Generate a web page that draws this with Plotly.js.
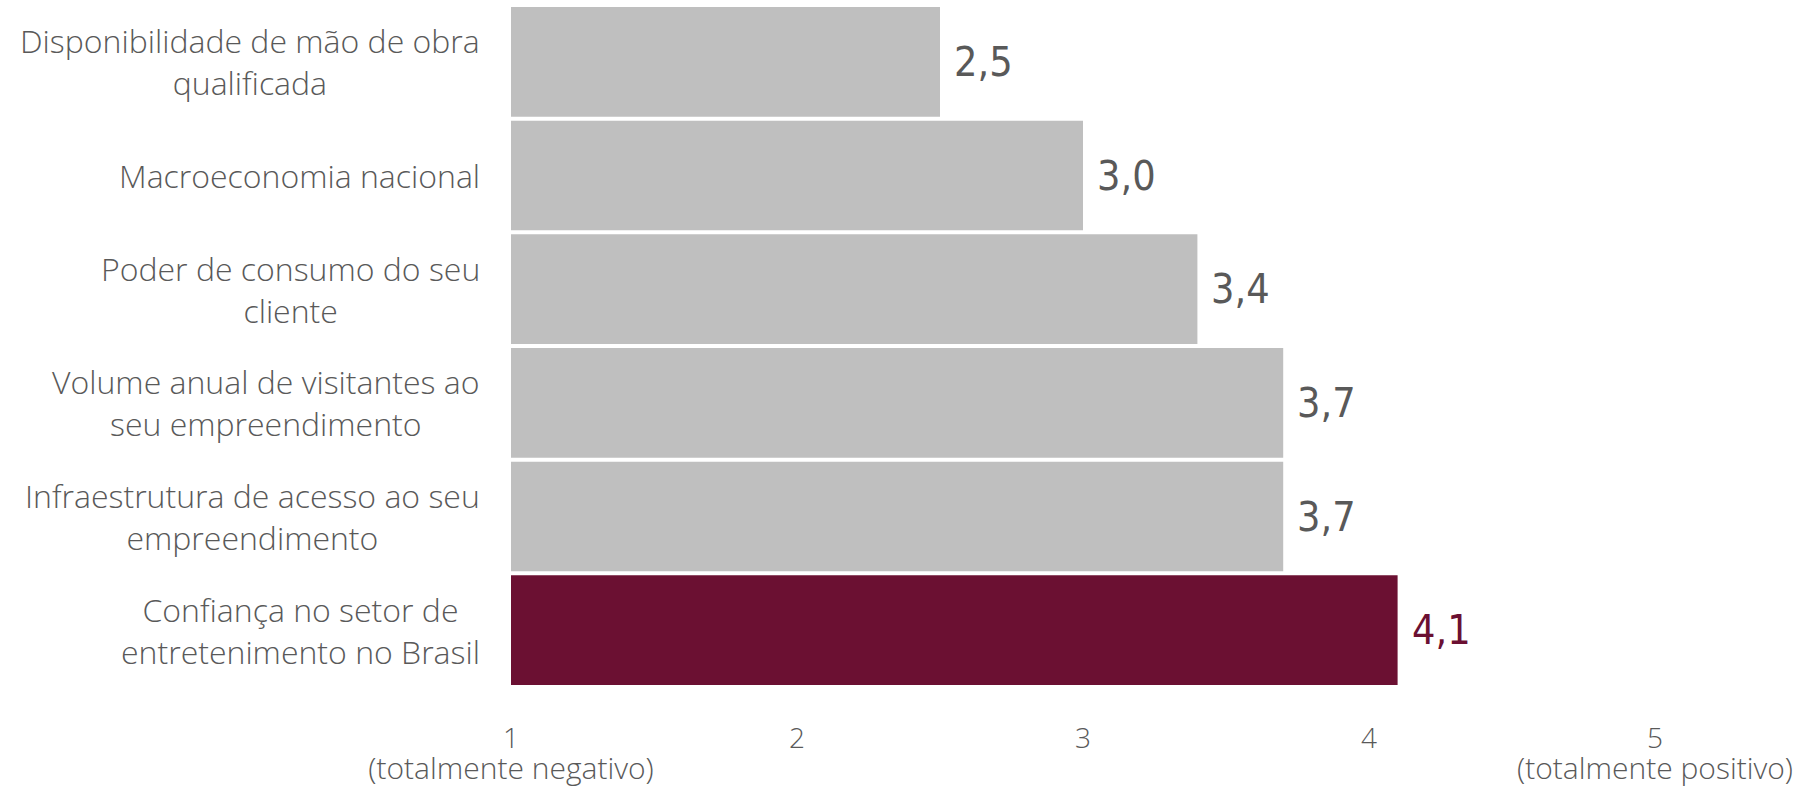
<!DOCTYPE html>
<html>
<head>
<meta charset="utf-8">
<script src="https://cdn.plot.ly/plotly-3.0.1.min.js"></script>
<style>html,body{margin:0;padding:0;background:#fff;}#chart{width:1808px;height:792px;}</style>
</head>
<body>
<div id="chart"></div>
<script>
const categories = [
  "Disponibilidade de mão de obra<br>qualificada",
  "Macroeconomia nacional",
  "Poder de consumo do seu<br>cliente",
  "Volume anual de visitantes ao<br>seu empreendimento",
  "Infraestrutura de acesso ao seu<br>empreendimento",
  "Confiança no setor de<br>entretenimento no Brasil"
];
const values = [2.5, 3.0, 3.4, 3.7, 3.7, 4.1];
const barColors = ["#bfbfbf", "#bfbfbf", "#bfbfbf", "#bfbfbf", "#bfbfbf", "#6b1032"];
const labelColors = ["#595959", "#595959", "#595959", "#595959", "#595959", "#6b1032"];
const tickVals = [1, 2, 3, 4, 5];
const tickLabels = ["1", "2", "3", "4", "5"];
const tickNotes = ["(totalmente negativo)", "", "", "", "(totalmente positivo)"];

const fmt = v => v.toFixed(1).replace('.', ',');
const textColor = "#595959";
const labelFont = "'Open Sans', Lato, sans-serif";

const tickText = tickLabels.map((t, i) =>
  '<span style="font-size:28px">' + t + '</span>' +
  (tickNotes[i] ? '<br><span style="font-size:30px">' + tickNotes[i] + '</span>' : ''));

const trace = {
  type: 'bar',
  orientation: 'h',
  x: values.map(v => v - 1),
  base: 1,
  y: categories,
  marker: {color: barColors},
  hoverinfo: 'skip'
};

const annotations = [];
categories.forEach((c, i) => {
  annotations.push({
    xref: 'paper', yref: 'y', x: 0, y: c, xanchor: 'right', yanchor: 'middle',
    xshift: -29, text: c, showarrow: false, align: 'center',
    font: {family: labelFont, size: 32, color: textColor, weight: 300}
  });
  annotations.push({
    xref: 'x', yref: 'y', x: values[i], y: c, xanchor: 'left', yanchor: 'middle',
    xshift: 12, text: fmt(values[i]), showarrow: false,
    font: {family: "'Liberation Sans Narrow', 'DejaVu Sans Condensed', sans-serif", size: 41, color: labelColors[i]}
  });
});

const layout = {
  width: 1808, height: 792,
  margin: {l: 511, r: 153, t: 5, b: 105},
  paper_bgcolor: '#fff', plot_bgcolor: '#fff',
  bargap: 0.035,
  showlegend: false,
  xaxis: {
    range: [1, 5], tickvals: tickVals, ticktext: tickText,
    showgrid: false, zeroline: false, showline: false, ticks: '',
    ticklabelstandoff: 36,
    tickfont: {family: labelFont, size: 24, color: textColor, weight: 300},
    fixedrange: true
  },
  yaxis: {
    autorange: 'reversed', showticklabels: false, showgrid: false,
    zeroline: false, showline: false, ticks: '', fixedrange: true
  },
  annotations: annotations
};

Plotly.newPlot('chart', [trace], layout, {displayModeBar: false, staticPlot: true});
</script>
</body>
</html>
